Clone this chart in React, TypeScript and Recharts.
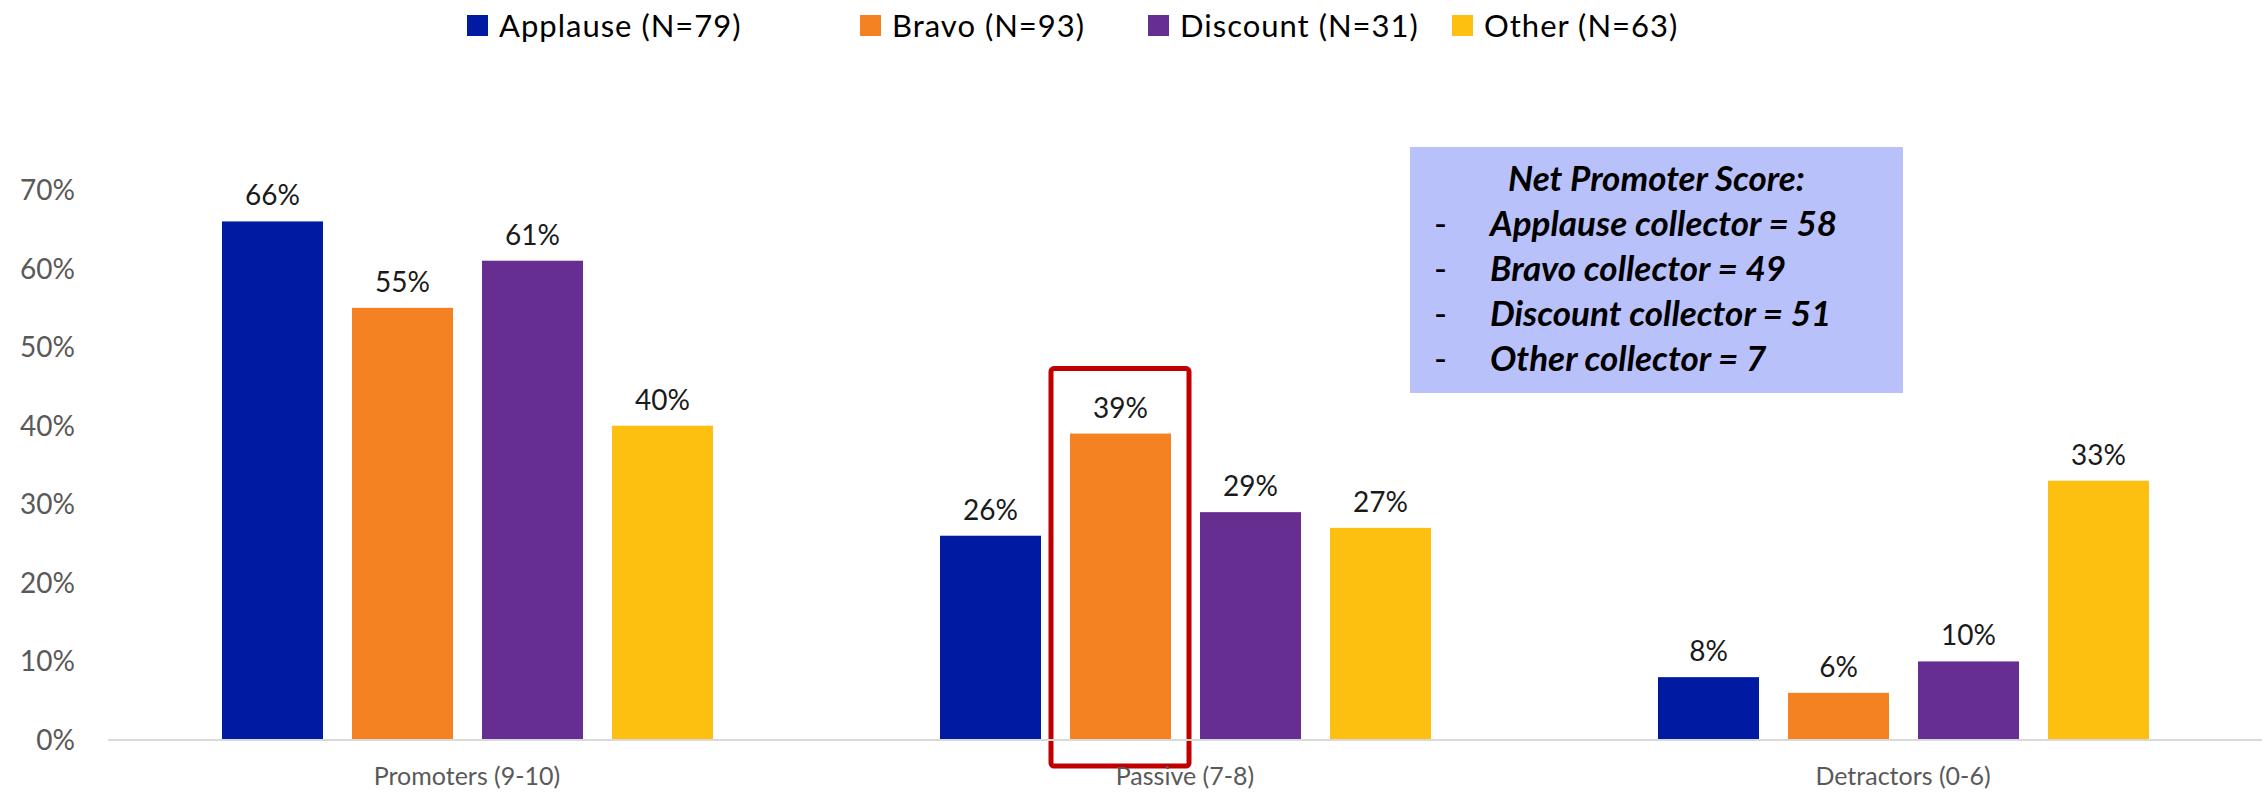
import { BarChart, Bar, XAxis, YAxis, LabelList } from "recharts";

const CATEGORIES = ["Promoters (9-10)", "Passive (7-8)", "Detractors (0-6)"];
const SERIES = ["Applause (N=79)", "Bravo (N=93)", "Discount (N=31)", "Other (N=63)"];
const KEYS = ["applause", "bravo", "discount", "other"];
const COLORS = ["#001BA1", "#F48122", "#672E91", "#FEC010"];

const APPLAUSE = [66, 26, 8];
const BRAVO = [55, 39, 6];
const DISCOUNT = [61, 29, 10];
const OTHER = [40, 27, 33];

const Y_TICKS = [0, 10, 20, 30, 40, 50, 60, 70];

const NPS_TITLE = "Net Promoter Score:";
const NPS_LINES = [
  "Applause collector = 58",
  "Bravo collector = 49",
  "Discount collector = 51",
  "Other collector = 7",
];

// highlighted bar: Bravo in "Passive (7-8)"
const HIGHLIGHT = { key: "bravo", index: 1 };

const LEGEND_X = [467, 860, 1148, 1452];

const data = CATEGORIES.map((name, i) => ({
  name,
  applause: APPLAUSE[i],
  bravo: BRAVO[i],
  discount: DISCOUNT[i],
  other: OTHER[i],
}));

const FONT = "Lato, 'Open Sans', sans-serif";

function makeShape(key: string, color: string) {
  return (props: any) => {
    const { x, y, width, height, index } = props;
    const hl = key === HIGHLIGHT.key && index === HIGHLIGHT.index;
    return (
      <g>
        <rect x={x} y={y} width={width} height={height} fill={color} />
        {hl && (
          <rect
            x={x - 19}
            y={y - 65}
            width={width + 37}
            height={height + 91}
            fill="none"
            stroke="#C00000"
            strokeWidth={5}
            rx={3}
          />
        )}
      </g>
    );
  };
}

export default function App() {
  return (
    <div style={{ position: "relative", width: 2265, height: 795, fontFamily: FONT }}>
      <style>{`body{margin:0}`}</style>
      <BarChart
        width={2265}
        height={795}
        data={data}
        margin={{ top: 190, right: 3, left: 0, bottom: 0 }}
        barSize={101}
        barGap={29}
      >
        <XAxis
          dataKey="name"
          height={55}
          axisLine={{ stroke: "#D9D9D9", strokeWidth: 2 }}
          tickLine={false}
          tickMargin={21}
          tick={{ fontSize: 25, fill: "#595959", fontFamily: FONT }}
        />
        <YAxis
          width={108}
          domain={[0, 70]}
          ticks={Y_TICKS}
          axisLine={false}
          tickLine={false}
          tickMargin={27}
          tickFormatter={(v: number) => `${v}%`}
          tick={{ fontSize: 28, fill: "#595959", fontFamily: FONT }}
        />
        {KEYS.map((k, i) => (
          <Bar
            key={k}
            dataKey={k}
            name={SERIES[i]}
            fill={COLORS[i]}
            isAnimationActive={false}
            shape={makeShape(k, COLORS[i])}
          >
            <LabelList
              dataKey={k}
              position="top"
              offset={16}
              formatter={(v: any) => `${v}%`}
              style={{ fontSize: 28, fill: "#1A1A1A", fontFamily: FONT }}
            />
          </Bar>
        ))}
      </BarChart>

      {/* legend */}
      {SERIES.map((s, i) => (
        <div
          key={s}
          style={{
            position: "absolute",
            left: LEGEND_X[i],
            top: 8,
            height: 34,
            display: "flex",
            alignItems: "center",
            fontSize: 31,
            letterSpacing: 1,
            color: "#000",
            whiteSpace: "nowrap",
          }}
        >
          <span style={{ width: 21, height: 21, background: COLORS[i], marginRight: 11, display: "inline-block" }} />
          {s}
        </div>
      ))}

      {/* NPS box */}
      <div
        style={{
          position: "absolute",
          left: 1410,
          top: 147,
          width: 493,
          height: 246,
          background: "#B8C1FA",
          boxSizing: "border-box",
          paddingTop: 8,
          fontSize: 35,
          lineHeight: "45px",
          color: "#000",
        }}
      >
        <div style={{ textAlign: "center", fontStyle: "italic", fontWeight: 700 }}>{NPS_TITLE}</div>
        {NPS_LINES.map((l) => (
          <div key={l} style={{ position: "relative", whiteSpace: "nowrap" }}>
            <span style={{ position: "absolute", left: 24, fontWeight: 400 }}>-</span>
            <span style={{ position: "absolute", left: 80, fontStyle: "italic", fontWeight: 700 }}>{l}</span>
            &nbsp;
          </div>
        ))}
      </div>
    </div>
  );
}
